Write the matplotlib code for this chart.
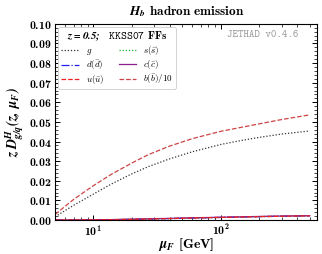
import matplotlib
matplotlib.use("Agg")
import matplotlib.pyplot as plt
from matplotlib.ticker import FuncFormatter, FixedLocator, MultipleLocator, LogLocator, NullFormatter
import numpy as np

plt.rcParams['font.family'] = 'serif'
plt.rcParams['font.serif'] = ['DejaVu Serif']
plt.rcParams['mathtext.fontset'] = 'custom'
plt.rcParams['mathtext.rm'] = 'cmr10'
plt.rcParams['mathtext.it'] = 'cmmi10'
plt.rcParams['mathtext.bf'] = 'cmb10'
plt.rcParams['mathtext.bfit'] = 'STIXGeneral:italic:bold'
plt.rcParams['mathtext.tt'] = 'cmtt10'
plt.rcParams['mathtext.fallback'] = 'cm'

mu = [5, 7, 10, 14, 20, 27, 39, 60, 100, 144, 200, 300, 500]
g_vals = [0.0016, 0.0075, 0.0132, 0.0185, 0.0235, 0.0272, 0.0310, 0.0348, 0.0385, 0.0405, 0.0421, 0.0438, 0.0454]
b10_vals = [0.0028, 0.0105, 0.0175, 0.0235, 0.0290, 0.0333, 0.0375, 0.0415, 0.0452, 0.0472, 0.0490, 0.0512, 0.0536]
c_vals = [0.0, 0.00002, 0.0001, 0.0002, 0.0004, 0.0006, 0.0008, 0.0011, 0.0014, 0.0016, 0.0018, 0.0020, 0.0022]
u_vals = [0.0, 0.00001, 0.00006, 0.00015, 0.0003, 0.0005, 0.0007, 0.0010, 0.0013, 0.0015, 0.0017, 0.0019, 0.0021]
d_vals = u_vals
s_vals = [0.0, 0.00001, 0.00007, 0.00016, 0.00032, 0.0005, 0.0007, 0.0010, 0.0013, 0.0015, 0.0017, 0.0019, 0.0021]

y_ticks = [0.00, 0.01, 0.02, 0.03, 0.04, 0.05, 0.06, 0.07, 0.08, 0.09, 0.10]
x_ticks = [10, 100]
x_tick_labels = [r'$\mathbf{10^{1}}$', r'$\mathbf{10^{2}}$']

fig = plt.figure(figsize=(3.22, 2.54), dpi=100)
ax = fig.add_axes([0.171, 0.134, 0.815, 0.772])

ax.plot(mu, g_vals, color='#333333', ls=(0, (1, 1.5)), lw=0.9, label=r'$g$')
ax.plot(mu, s_vals, color='#22aa22', ls=(0, (1, 1.5)), lw=0.9, label=r'$s(\bar{s})$')
ax.plot(mu, d_vals, color='#2020ee', ls='-.', lw=0.9, label=r'$d(\bar{d})$')
ax.plot(mu, c_vals, color='#8e1f8e', ls='-', lw=0.9, label=r'$c(\bar{c})$')
ax.plot(mu, u_vals, color='#ee2020', ls='--', lw=0.9, label=r'$u(\bar{u})$')
ax.plot(mu, b10_vals, color='#cc4444', ls='--', lw=0.9, label=r'$b(\bar{b})/10$')

ax.set_xscale('log')
ax.set_xlim(5, 575)
ax.set_ylim(0, 0.10)
ax.xaxis.set_major_locator(FixedLocator(x_ticks))
ax.xaxis.set_major_formatter(FuncFormatter(lambda v, p: x_tick_labels[x_ticks.index(v)] if v in x_ticks else ''))
ax.xaxis.set_minor_locator(LogLocator(base=10, subs=np.arange(2, 10)))
ax.xaxis.set_minor_formatter(NullFormatter())
ax.yaxis.set_major_locator(FixedLocator(y_ticks))
ax.yaxis.set_minor_locator(MultipleLocator(0.002))
ax.yaxis.set_major_formatter(FuncFormatter(lambda v, p: r'$\mathbf{%.2f}$' % v))
ax.tick_params(which='both', direction='in', top=True, right=True, labelsize=8.5)
ax.tick_params(which='major', length=3.5, width=0.7, pad=2.5)
ax.tick_params(which='minor', length=2, width=0.5)
for sp in ax.spines.values():
    sp.set_linewidth(0.8)

ax.set_title(r'$\mathbfit{H_b}$ $\mathbf{hadron\ emission}$', fontsize=9.5, pad=6)
ax.set_xlabel(r'$\mathbfit{\mu_F}$ $\mathbf{[GeV]}$', fontsize=10, labelpad=-2)
ax.set_ylabel(r'$\mathbfit{z\, D^H_{g/q}(z,\, \mu_F)}$', fontsize=10, labelpad=2)

ax.text(0.925, 0.97, 'JETHAD v0.4.6', transform=ax.transAxes, fontfamily='cmtt10',
        ha='right', va='top', fontsize=7.5, color='#999999')

handles, labels = ax.get_legend_handles_labels()
order = [0, 2, 4, 1, 3, 5]
leg = ax.legend([handles[i] for i in order], [labels[i] for i in order], ncol=2, loc='upper left',
                title=r'$\mathbfit{z = 0.5;}$  $\mathtt{KKSS07}$ $\mathbf{FFs}$',
                fontsize=6.5, title_fontsize=8, handlelength=1.9, columnspacing=1.6,
                borderaxespad=0.35, handletextpad=0.8, labelspacing=0.12, framealpha=1,
                edgecolor='#cccccc', fancybox=True, borderpad=0.35)
leg.get_frame().set_linewidth(0.6)

fig.savefig('out.png', dpi=100)
